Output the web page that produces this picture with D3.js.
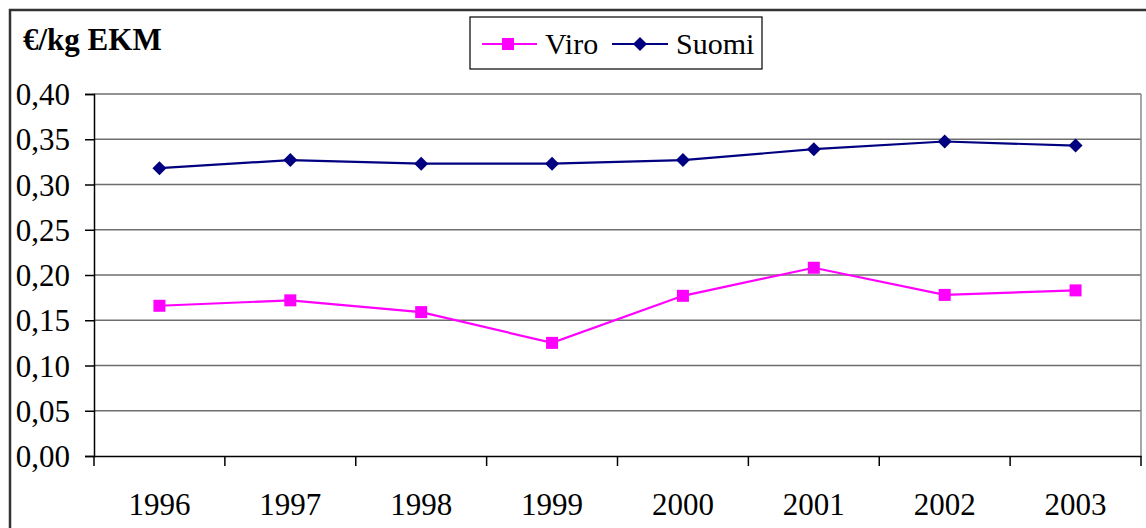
<!DOCTYPE html>
<html><head><meta charset="utf-8">
<script src="https://cdn.jsdelivr.net/npm/d3@7"></script>
<style>html,body{margin:0;padding:0;background:#fff;}</style>
</head><body>
<svg id="chart" width="1146" height="528"></svg>
<script>
const years = ["1996","1997","1998","1999","2000","2001","2002","2003"];
const viro  = [0.166,0.172,0.159,0.125,0.177,0.208,0.178,0.183];
const suomi = [0.318,0.327,0.323,0.323,0.327,0.339,0.3475,0.343];
const yTicks = [0,0.05,0.10,0.15,0.20,0.25,0.30,0.35,0.40];
const yTitle = "€/kg EKM";

const svg = d3.select("#chart");
const font = "Liberation Serif, Times New Roman, serif";
const L=94, R=1141, T=94, B=456;
const x = d3.scaleBand().domain(years).range([L,R]);
const y = d3.scaleLinear().domain([0,0.40]).range([B,T]);
const fmt = v => d3.format(".2f")(v).replace(".", ",");

// outer border
svg.append("rect").attr("x",10).attr("y",10).attr("width",1150).attr("height",530)
  .attr("fill","none").attr("stroke","#333").attr("stroke-width",2.5);

// gridlines
svg.append("g").selectAll("line").data(yTicks.filter(d=>d>0)).join("line")
  .attr("x1",L).attr("x2",R).attr("y1",d=>y(d)).attr("y2",d=>y(d))
  .attr("stroke","#6e6e6e").attr("stroke-width",1.5);
// right border of plot
svg.append("line").attr("x1",R).attr("x2",R).attr("y1",T).attr("y2",B)
  .attr("stroke","#8a8a8a").attr("stroke-width",1.5);

// y axis
const yAxis = d3.axisLeft(y).tickValues(yTicks).tickFormat(fmt).tickSize(9).tickPadding(15);
const gy = svg.append("g").attr("transform",`translate(${L},0)`).call(yAxis)
  .attr("font-family",font).attr("font-size",31);
gy.select(".domain").attr("stroke","#000").attr("stroke-width",1.5);
gy.selectAll(".tick line").attr("stroke","#000").attr("stroke-width",1.5);
gy.selectAll(".tick text").style("font-family",font).style("font-size","31px").attr("fill","#000").attr("dy","0.34em");

// x axis
const xAxis = d3.axisBottom(x).tickSize(0).tickPadding(0);
const gx = svg.append("g").attr("transform",`translate(0,${B})`).call(xAxis)
  .attr("font-family",font).attr("font-size",31);
gx.select(".domain").attr("stroke","#000").attr("stroke-width",1.5);
gx.selectAll(".tick text").style("font-family",font).style("font-size","31px").attr("fill","#000").attr("dy",0).attr("y",59);
// boundary ticks
const bounds = years.map(d=>x(d)).concat([R]);
svg.append("g").selectAll("line").data(bounds).join("line")
  .attr("x1",d=>d).attr("x2",d=>d).attr("y1",B).attr("y2",B+10)
  .attr("stroke","#000").attr("stroke-width",1.5);

// title
svg.append("text").attr("x",23).attr("y",50).text(yTitle)
  .style("font-family",font).style("font-size","31px").attr("font-weight","bold").attr("fill","#000");

const cx = d => x(d)+x.bandwidth()/2;
const line = d3.line().x((d,i)=>cx(years[i])).y(d=>y(d));

// Suomi
svg.append("path").datum(suomi).attr("d",line).attr("fill","none").attr("stroke","#000080").attr("stroke-width",2.2);
svg.append("g").selectAll("path").data(suomi).join("path")
  .attr("d","M0,-7L7,0L0,7L-7,0Z")
  .attr("transform",(d,i)=>`translate(${cx(years[i])},${y(d)})`).attr("fill","#000080");

// Viro
svg.append("path").datum(viro).attr("d",line).attr("fill","none").attr("stroke","#FF00FF").attr("stroke-width",2.2);
svg.append("g").selectAll("rect").data(viro).join("rect")
  .attr("x",(d,i)=>cx(years[i])-6).attr("y",d=>y(d)-6).attr("width",12).attr("height",12).attr("fill","#FF00FF");

// legend
const lg = svg.append("g");
lg.append("rect").attr("x",470).attr("y",17).attr("width",292).attr("height",52)
  .attr("fill","#fff").attr("stroke","#000").attr("stroke-width",1.2);
lg.append("line").attr("x1",482).attr("x2",537).attr("y1",44).attr("y2",44).attr("stroke","#FF00FF").attr("stroke-width",2.2);
lg.append("rect").attr("x",502).attr("y",38).attr("width",12).attr("height",12).attr("fill","#FF00FF");
lg.append("text").attr("x",545).attr("y",54).text("Viro").style("font-family",font).style("font-size","30px").attr("fill","#000");
lg.append("line").attr("x1",612).attr("x2",668).attr("y1",44).attr("y2",44).attr("stroke","#000080").attr("stroke-width",2.2);
lg.append("path").attr("d","M0,-7L7,0L0,7L-7,0Z").attr("transform","translate(640,44)").attr("fill","#000080");
lg.append("text").attr("x",676).attr("y",54).text("Suomi").style("font-family",font).style("font-size","30px").attr("fill","#000");
</script>
</body></html>
